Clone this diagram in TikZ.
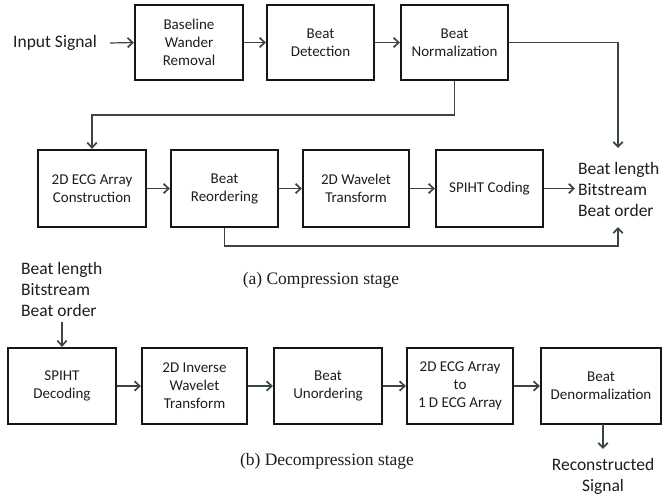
\documentclass[tikz,border=0pt]{standalone}
\usepackage{fontspec}
\setmainfont{Carlito}
\newfontfamily\capfont{Liberation Serif}
\usetikzlibrary{arrows.meta}
\definecolor{boxc}{HTML}{161616}
\definecolor{linec}{HTML}{3A4646}
\definecolor{txtc}{HTML}{1E1E1E}
\begin{document}
\begin{tikzpicture}[x=1pt,y=-1pt,
  blk/.style={draw=boxc, line width=2.3pt, minimum height=75pt, align=center,
    font=\fontsize{15}{18}\selectfont, text=txtc, inner sep=0pt, fill=white},
  lbl/.style={font=\fontsize{17.5}{21}\selectfont, text=txtc, inner sep=0pt},
  captxt/.style={font=\capfont\fontsize{17.5}{21}\selectfont, text=txtc, inner sep=0pt},
  arr/.style={draw=linec, line width=1.2pt, -{Straight Barb[length=5pt,width=9.5pt,line width=1.7pt]}},
  ln/.style={draw=linec, line width=1.2pt}]
\useasboundingbox (0,0) rectangle (663,499);
\fill[white] (0,0) rectangle (663,499);

% Row 1
\node[lbl, anchor=west] (in) at (13,43) {Input Signal};
\node[blk, minimum width=108pt] (bw) at (189,42.5) {Baseline\\Wander\\Removal};
\node[blk, minimum width=107pt] (bd) at (320.5,42.5) {Beat\\Detection};
\node[blk, minimum width=107pt] (bn) at (454.5,42.5) {Beat\\Normalization};

% Row 2
\node[blk, minimum width=108pt, minimum height=77pt] (ec) at (92,188.5) {2D ECG Array\\Construction};
\node[blk, minimum width=107pt, minimum height=77pt] (br) at (224.5,188.5) {Beat\\Reordering};
\node[blk, minimum width=106pt, minimum height=77pt] (wt) at (356,188.5) {2D Wavelet\\Transform};
\node[blk, minimum width=107pt, minimum height=77pt] (sc) at (489.5,188.5) {SPIHT Coding};
\node[lbl, anchor=west, align=left] (out) at (578,189) {Beat length\\Bitstream\\Beat order};

\node[captxt] (capa) at (321,280) {(a) Compression stage};

% Row 3
\node[lbl, anchor=west, align=left] (lt) at (21,289) {Beat length\\Bitstream\\Beat order};
\node[blk, minimum width=108pt, minimum height=76pt] (sd) at (62,386) {SPIHT\\Decoding};
\node[blk, minimum width=105pt, minimum height=76pt] (iw) at (194.5,386) {2D Inverse\\Wavelet\\Transform};
\node[blk, minimum width=108pt, minimum height=76pt] (bu) at (328,386) {Beat\\Unordering};
\node[blk, minimum width=106pt, minimum height=76pt] (ta) at (460,386) {2D ECG Array\\to\\1 D ECG Array};
\node[blk, minimum width=120pt, minimum height=76pt] (dn) at (601,386) {Beat\\Denormalization};
\node[lbl, align=center] (rs) at (603,476) {Reconstructed\\Signal};

\node[captxt] (capb) at (327,461) {(b) Decompression stage};

% coordinates
\coordinate (inend) at (110,43);
\coordinate (outtop) at (618,148);
\coordinate (outbot) at (618,227);
\coordinate (lowturn) at (618,246);
\coordinate (fb) at (92,115);
\coordinate (oin) at (575,188.5);
\coordinate (lts) at (62,322);
\coordinate (dns) at (603,424);
\coordinate (rsn) at (603,449);

% connectors
\draw[arr] (inend) -- (bw.west);
\draw[arr] (bw.east) -- (bd.west);
\draw[arr] (bd.east) -- (bn.west);
\draw[arr] (bn.east) -| (outtop);
\draw[arr] (bn.south) |- (fb) -- (ec.north);
\draw[arr] (ec.east) -- (br.west);
\draw[arr] (br.east) -- (wt.west);
\draw[arr] (wt.east) -- (sc.west);
\draw[arr] (sc.east) -- (oin);
\draw[arr] (br.south) |- (lowturn) -- (outbot);

\draw[arr] (lts) -- (sd.north);
\draw[arr] (sd.east) -- (iw.west);
\draw[arr] (iw.east) -- (bu.west);
\draw[arr] (bu.east) -- (ta.west);
\draw[arr] (ta.east) -- (dn.west);
\draw[arr] (dns) -- (rsn);
\end{tikzpicture}
\end{document}
